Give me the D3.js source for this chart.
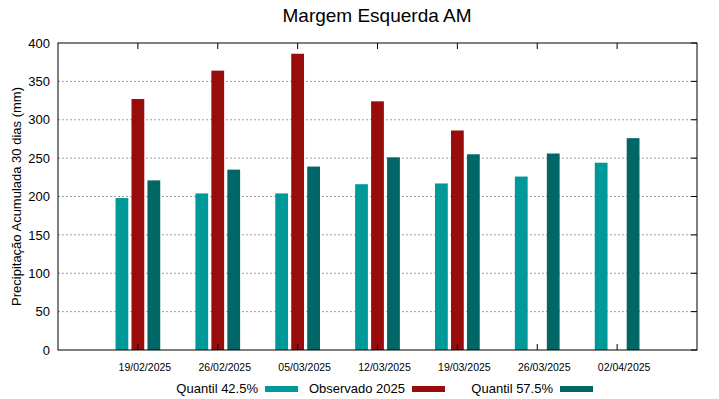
<!DOCTYPE html>
<html>
<head>
<meta charset="utf-8">
<script src="https://cdn.jsdelivr.net/npm/d3@7"></script>
<style>
  body { margin: 0; background: #fff; }
  text { font-family: "Liberation Sans", Arial, sans-serif; }
</style>
</head>
<body>
<div id="chart"></div>
<script>
// Data
var datas = ["19/02/2025", "26/02/2025", "05/03/2025", "12/03/2025", "19/03/2025", "26/03/2025", "02/04/2025"];
var quantil425 = [198, 204, 204, 216, 217, 226, 244];
var observado = [327, 364, 386, 324, 286, null, null];
var quantil575 = [221, 235, 239, 251, 255, 256, 276];
var yTicks = [0, 50, 100, 150, 200, 250, 300, 350, 400];

var series = [
  {name: "Quantil 42.5%", values: quantil425, color: "#009999", offset: -0.2},
  {name: "Observado 2025", values: observado, color: "#990c0c", offset: 0},
  {name: "Quantil 57.5%", values: quantil575, color: "#006666", offset: 0.2}
];

// Dimentions
var W = 719, H = 399;
var margin = {top: 43, right: 22, bottom: 49, left: 58},
width = W - margin.left - margin.right,
height = H - margin.top - margin.bottom;

var svg = d3.select("#chart")
.append("svg")
.attr("width", W)
.attr("height", H);

var g = svg.append("g")
.attr("transform", "translate(" + margin.left + "," + margin.top + ")");

// x is numeric like gnuplot: categories at 1..7 on a 0..8 range
var x = d3.scaleLinear().domain([0, datas.length + 1]).range([0, width]);
var y = d3.scaleLinear().domain([0, 400]).range([height, 0]);
var barW = x(0.16) - x(0);

// grid lines
g.append("g")
.selectAll("line")
.data(yTicks.filter(function(d) { return d > 0 && d < 400; }))
.enter().append("line")
  .attr("x1", 0)
  .attr("x2", width)
  .attr("y1", function(d) { return y(d); })
  .attr("y2", function(d) { return y(d); })
  .attr("stroke", "#a0a0a0")
  .attr("stroke-width", 1)
  .attr("stroke-dasharray", "2,2");

// bars
series.forEach(function(s) {
  g.append("g")
  .selectAll("rect")
  .data(s.values.map(function(v, i) { return {i: i, v: v}; }).filter(function(d) { return d.v != null; }))
  .enter().append("rect")
    .attr("x", function(d) { return x(d.i + 1 + s.offset) - barW / 2; })
    .attr("y", function(d) { return y(d.v); })
    .attr("width", barW)
    .attr("height", function(d) { return y(0) - y(d.v); })
    .attr("fill", s.color);
});

// Y axis left
var yAxis = g.append("g")
.call(d3.axisLeft(y).tickValues(yTicks).tickSize(0).tickPadding(8));
yAxis.select(".domain").remove();
yAxis.selectAll("text").attr("font-size", "13px").attr("fill", "#000");

// inner ticks on right
g.append("g")
.selectAll("line")
.data(yTicks)
.enter().append("line")
  .attr("x1", width - 6).attr("x2", width)
  .attr("y1", function(d) { return y(d); })
  .attr("y2", function(d) { return y(d); })
  .attr("stroke", "#000");

// X axis: tick marks at each date, top and bottom, pointing in
var xPos = datas.map(function(d, i) { return i + 1; });
g.append("g")
.selectAll("line")
.data(xPos)
.enter().append("line")
  .attr("x1", function(d) { return x(d); })
  .attr("x2", function(d) { return x(d); })
  .attr("y1", 0).attr("y2", 6)
  .attr("stroke", "#000");
g.append("g")
.selectAll("line")
.data(xPos)
.enter().append("line")
  .attr("x1", function(d) { return x(d); })
  .attr("x2", function(d) { return x(d); })
  .attr("y1", height - 6).attr("y2", height)
  .attr("stroke", "#000");

// date labels sit a bit right of their ticks (as in the original)
g.append("g")
.selectAll("text")
.data(datas)
.enter().append("text")
  .attr("x", function(d, i) { return x(i + 1) + 7; })
  .attr("y", height + 21)
  .attr("text-anchor", "middle")
  .attr("font-size", "10.5px")
  .text(function(d) { return d; });

// border
g.append("rect")
.attr("width", width)
.attr("height", height)
.attr("fill", "none")
.attr("stroke", "#000")
.attr("stroke-width", 1);

// title
svg.append("text")
.attr("x", 377)
.attr("y", 22)
.attr("text-anchor", "middle")
.attr("font-size", "19px")
.text("Margem Esquerda AM");

// y label
svg.append("text")
.attr("transform", "translate(21," + (margin.top + height / 2) + ") rotate(-90)")
.attr("text-anchor", "middle")
.attr("font-size", "13px")
.text("Precipitação Acumulada 30 dias (mm)");

// legend
var legendPos = [258, 405, 553];
var legend = svg.selectAll(".legend")
.data(series)
.enter().append("g")
  .attr("transform", function(d, i) { return "translate(" + legendPos[i] + ",389)"; });
legend.append("text")
  .attr("text-anchor", "end")
  .attr("y", 4)
  .attr("font-size", "13px")
  .text(function(d) { return d.name; });
legend.append("rect")
  .attr("x", 7)
  .attr("y", -3)
  .attr("width", 33)
  .attr("height", 6)
  .attr("fill", function(d) { return d.color; });
</script>
</body>
</html>
